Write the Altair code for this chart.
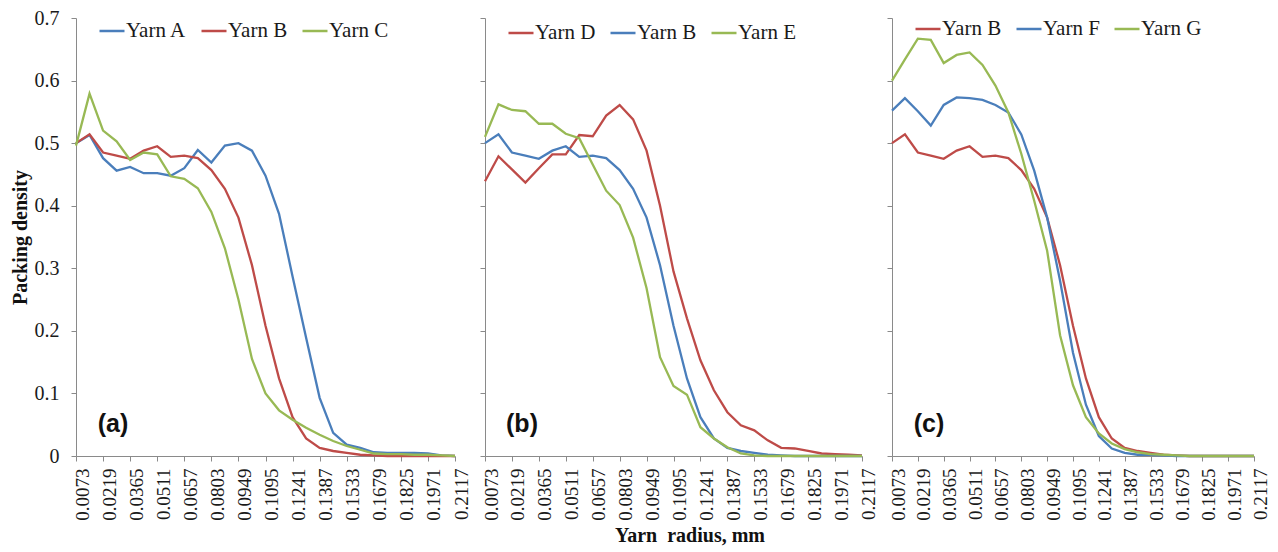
import altair as alt
import pandas as pd

# Yarn radius categories (mm)
radius = [0.0073, 0.0146, 0.0219, 0.0292, 0.0365, 0.0438, 0.0511, 0.0584, 0.0657, 0.073,
          0.0803, 0.0876, 0.0949, 0.1022, 0.1095, 0.1168, 0.1241, 0.1314, 0.1387, 0.146,
          0.1533, 0.1606, 0.1679, 0.1752, 0.1825, 0.1898, 0.1971, 0.2044, 0.2117]
tick_labels = [0.0073, 0.0219, 0.0365, 0.0511, 0.0657, 0.0803, 0.0949, 0.1095, 0.1241,
               0.1387, 0.1533, 0.1679, 0.1825, 0.1971, 0.2117]
y_ticks = [0, 0.1, 0.2, 0.3, 0.4, 0.5, 0.6, 0.7]

yarn_a = [0.500, 0.513, 0.476, 0.456, 0.462, 0.452, 0.452, 0.448, 0.460, 0.489, 0.469, 0.496,
          0.500, 0.488, 0.448, 0.387, 0.287, 0.189, 0.093, 0.037, 0.018, 0.013, 0.006, 0.005,
          0.005, 0.005, 0.004, 0.001, 0.000]
yarn_b = [0.500, 0.514, 0.485, 0.480, 0.475, 0.488, 0.495, 0.478, 0.480, 0.476, 0.457, 0.427,
          0.381, 0.305, 0.208, 0.124, 0.062, 0.028, 0.013, 0.008, 0.005, 0.002, 0.001, 0.000,
          0.000, 0.000, 0.000, 0.000, 0.000]
yarn_c = [0.496, 0.579, 0.520, 0.503, 0.473, 0.485, 0.482, 0.447, 0.443, 0.428, 0.390, 0.332,
          0.250, 0.155, 0.100, 0.073, 0.058, 0.045, 0.034, 0.024, 0.016, 0.010, 0.004, 0.003,
          0.003, 0.002, 0.002, 0.001, 0.000]
yarn_d = [0.439, 0.479, 0.458, 0.437, 0.460, 0.482, 0.482, 0.513, 0.511, 0.544, 0.561, 0.538,
          0.488, 0.400, 0.295, 0.220, 0.153, 0.105, 0.070, 0.049, 0.041, 0.025, 0.013, 0.012,
          0.008, 0.004, 0.003, 0.002, 0.001]
yarn_e = [0.510, 0.562, 0.553, 0.551, 0.531, 0.531, 0.515, 0.508, 0.466, 0.424, 0.401, 0.349,
          0.268, 0.158, 0.112, 0.098, 0.046, 0.028, 0.014, 0.004, 0.001, 0.000, 0.000, 0.000,
          0.000, 0.000, 0.000, 0.000, 0.000]
yarn_f = [0.552, 0.572, 0.551, 0.528, 0.561, 0.573, 0.572, 0.569, 0.561, 0.549, 0.514, 0.456,
          0.381, 0.280, 0.165, 0.082, 0.032, 0.012, 0.005, 0.002, 0.002, 0.001, 0.000, 0.000,
          0.000, 0.000, 0.000, 0.000, 0.000]
yarn_g = [0.600, 0.634, 0.667, 0.665, 0.628, 0.641, 0.645, 0.625, 0.592, 0.549, 0.483, 0.408,
          0.328, 0.193, 0.113, 0.062, 0.036, 0.020, 0.011, 0.006, 0.003, 0.002, 0.001, 0.000,
          0.000, 0.000, 0.000, 0.000, 0.000]

BLUE, RED, GREEN = "#4A7EBB", "#BE4B48", "#98B954"
SERIF = "Liberation Serif"
AXIS_GREY = "#8a8a8a"
TXT = "#1a1a1a"


def panel(names, series, colors, letter, width, legend_y, first=False, x_title=False):
    rows = []
    for name, vals in zip(names, series):
        for r, v in zip(radius, vals):
            rows.append({"radius": r, "density": v, "yarn": name})
    df = pd.DataFrame(rows)

    x_axis_kw = dict(values=tick_labels, format=".4f", labelAngle=270, labelFont=SERIF,
                     labelFontSize=19, labelColor=TXT, labelPadding=7, labelOffset=6,
                     labelFlush=False, labelOverlap=False, tickSize=5, tickColor=AXIS_GREY,
                     domainColor=AXIS_GREY, grid=False)
    if x_title:
        x_axis_kw.update(title="Yarn\u00a0 radius, mm", titleFont=SERIF, titleFontSize=20,
                         titleFontWeight="bold", titleColor="#111", titlePadding=5,
                         titleX=width / 2 + 16)
        x_enc = alt.X("radius:Q", scale=alt.Scale(domain=[0.0073, 0.2117], nice=False, zero=False),
                      axis=alt.Axis(**x_axis_kw))
    else:
        x_enc = alt.X("radius:Q", scale=alt.Scale(domain=[0.0073, 0.2117], nice=False, zero=False),
                      axis=alt.Axis(**x_axis_kw), title=None)

    y_axis_kw = dict(values=y_ticks, format=".1~f", tickSize=5, tickColor=AXIS_GREY,
                     domainColor=AXIS_GREY, grid=False, labels=first)
    if first:
        y_axis_kw.update(labelFont=SERIF, labelFontSize=20, labelColor=TXT, labelPadding=12,
                         title="Packing density", titleFont=SERIF, titleFontSize=20,
                         titleFontWeight="bold", titleColor="#111", titlePadding=4)
        y_enc = alt.Y("density:Q", scale=alt.Scale(domain=[0, 0.7], nice=False),
                      axis=alt.Axis(**y_axis_kw))
    else:
        y_enc = alt.Y("density:Q", scale=alt.Scale(domain=[0, 0.7], nice=False),
                      axis=alt.Axis(**y_axis_kw), title=None)

    lines = alt.Chart(df).mark_line(strokeWidth=2.3).encode(
        x=x_enc,
        y=y_enc,
        color=alt.Color("yarn:N", sort=names,
                        scale=alt.Scale(domain=names, range=colors),
                        legend=alt.Legend(orient="none", legendX=22, legendY=legend_y,
                                          direction="horizontal", title=None,
                                          symbolType="stroke", symbolSize=625,
                                          symbolStrokeWidth=2.5, labelFont=SERIF,
                                          labelFontSize=21, labelColor=TXT, labelOffset=0,
                                          columnPadding=9, padding=0)),
        detail="yarn:N",
    )
    lab = alt.Chart(pd.DataFrame({"t": [letter]})).mark_text(
        font="Liberation Sans", fontWeight="bold", fontSize=25, align="center",
        baseline="middle", color="#111").encode(
        x=alt.value(37), y=alt.value(406), text="t:N")
    return alt.layer(lines, lab).properties(width=width, height=438)


pa = panel(["Yarn A", "Yarn B", "Yarn C"], [yarn_a, yarn_b, yarn_c], [BLUE, RED, GREEN],
           "(a)", 379, -1, first=True)
pb = panel(["Yarn D", "Yarn B", "Yarn E"], [yarn_d, yarn_b, yarn_e], [RED, BLUE, GREEN],
           "(b)", 377, 1, x_title=True)
pc = panel(["Yarn B", "Yarn F", "Yarn G"], [yarn_b, yarn_f, yarn_g], [RED, BLUE, GREEN],
           "(c)", 362, -3)

chart = alt.hconcat(pa, pb, pc, spacing=30, bounds="flush").resolve_scale(
    color="independent").properties(
    padding={"left": 2, "top": 0, "right": 0, "bottom": 0}).configure_view(stroke=None)

chart.save("out.html", embed_options={"renderer": "svg", "actions": False})
